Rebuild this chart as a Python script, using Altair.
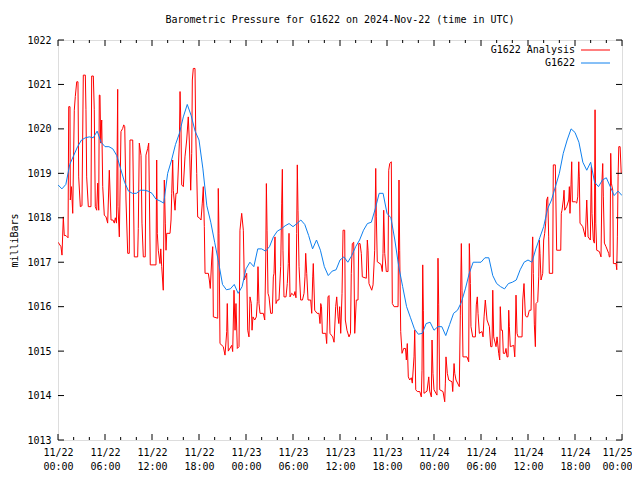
import altair as alt
import pandas as pd

title_text = "Barometric Pressure for G1622 on 2024-Nov-22 (time in UTC)"
series_names = ["G1622 Analysis", "G1622"]
series_colors = ["#ff0000", "#0f80ee"]
y_ticks = list(range(1013, 1023))
x_major = list(range(0, 73, 6))
x_minor = [h for h in range(0, 73, 2) if h % 6]
day_labels = ["11/22"] * 4 + ["11/23"] * 4 + ["11/24"] * 4 + ["11/25"]
time_labels = ["00:00", "06:00", "12:00", "18:00"] * 3 + ["00:00"]

# G1622 observed pressure, every 30 minutes from 11/22 00:00 (hours)
blue_values = [
    1018.74, 1018.65, 1018.75, 1019.2, 1019.4, 1019.6, 1019.75, 1019.8, 1019.82, 1019.8,
    1019.95, 1019.7, 1019.6, 1019.6, 1019.55, 1019.4, 1019.1, 1018.8, 1018.6, 1018.55,
    1018.55, 1018.62, 1018.62, 1018.6, 1018.55, 1018.42, 1018.38, 1018.33, 1019.0, 1019.3,
    1019.65, 1019.9, 1020.27, 1020.55, 1020.3, 1019.95, 1019.75, 1019.1, 1018.27, 1017.9,
    1017.45, 1017.0, 1016.5, 1016.38, 1016.4, 1016.5, 1016.3, 1016.45, 1016.85, 1017.0,
    1016.9, 1017.3, 1017.3, 1017.25, 1017.35, 1017.57, 1017.7, 1017.75, 1017.82, 1017.87,
    1017.8, 1017.87, 1017.95, 1017.85, 1017.6, 1017.3, 1017.5, 1017.27, 1016.9, 1016.7,
    1016.8, 1016.83, 1017.05, 1017.12, 1017.0, 1017.15, 1017.35, 1017.5, 1017.72, 1017.87,
    1017.9, 1018.2, 1018.55, 1018.55, 1018.1, 1018.0, 1017.5, 1016.9, 1016.45, 1016.0,
    1015.75, 1015.5, 1015.38, 1015.4, 1015.62, 1015.65, 1015.47, 1015.55, 1015.55, 1015.35,
    1015.6, 1015.85, 1015.92, 1016.1, 1016.4, 1016.75, 1017.0, 1017.0, 1017.0, 1017.1,
    1017.1, 1016.7, 1016.52, 1016.45, 1016.4, 1016.52, 1016.55, 1016.6, 1016.83, 1017.0,
    1017.05, 1017.0, 1017.3, 1017.55, 1017.8, 1018.2, 1018.4, 1018.7, 1019.0, 1019.45,
    1019.75, 1020.0, 1019.92, 1019.7, 1019.25, 1019.07, 1019.25, 1018.8, 1018.7, 1018.85,
    1018.9, 1018.7, 1018.5, 1018.6, 1018.5,
]
blue_hours = [i * 0.5 for i in range(len(blue_values))]

# G1622 Analysis (hours since 11/22 00:00, mb)
red_hours = [
    0.0, 0.09, 0.38, 0.51, 0.68, 0.8, 1.02, 1.28, 1.37, 1.53, 1.57, 1.72, 1.88, 2.08, 2.21, 2.39, 2.55, 2.64, 2.85, 3.06,
    3.23, 3.49, 3.57, 3.66, 3.87, 4.21, 4.30, 4.51, 4.63, 4.76, 4.94, 5.07, 5.2, 5.27, 5.36, 5.45, 5.58, 5.71, 5.91, 6.13,
    6.34, 6.55, 6.77, 7.02, 7.19, 7.32, 7.47, 7.62, 7.66, 7.83, 8.04, 8.26, 8.39, 8.52, 8.68, 8.90, 9.10, 9.19, 9.54, 9.74,
    10.17, 10.25, 10.38, 10.6, 10.72, 10.89, 11.14, 11.23, 11.45, 11.58, 11.78, 12.51, 12.6, 12.68, 12.80, 13.02, 13.12, 13.24, 13.44, 13.57,
    13.70, 13.79, 13.88, 14.30, 14.43, 14.52, 14.64, 14.72, 14.94, 15.06, 15.23, 15.49, 15.58, 15.70, 15.79, 16.0, 16.21, 16.43, 16.63, 16.76,
    16.94, 17.07, 17.15, 17.27, 17.49, 17.58, 17.71, 17.83, 18.04, 18.26, 18.42, 18.55, 18.68, 18.77, 19.19, 19.32, 19.44, 19.62, 19.75, 19.83,
    20.39, 20.46, 20.55, 20.68, 21.10, 21.32, 21.54, 21.61, 21.74, 22.18, 22.30, 22.47, 22.60, 22.72, 22.89, 23.11, 23.23, 23.45, 23.66, 23.78,
    24.09, 24.22, 24.38, 24.51, 24.68, 24.77, 24.89, 25.11, 25.32, 25.44, 25.53, 25.66, 25.79, 26.21, 26.39, 26.52, 26.6, 26.69, 26.81, 26.94,
    27.15, 27.36, 27.49, 27.58, 27.70, 27.83, 28.0, 28.21, 28.43, 28.56, 28.64, 28.72, 28.85, 29.11, 29.27, 29.40, 29.49, 29.62, 29.83, 30.13,
    30.25, 30.38, 30.47, 30.55, 30.64, 30.77, 30.98, 31.21, 31.41, 31.53, 31.62, 31.75, 31.92, 32.26, 32.39, 32.52, 32.59, 32.77, 33.07, 33.32,
    33.45, 33.54, 33.64, 33.75, 34.18, 34.30, 34.47, 34.6, 34.72, 34.89, 35.07, 35.24, 35.45, 35.58, 35.75, 35.85, 35.96, 36.09, 36.26, 36.39,
    36.6, 36.68, 36.89, 37.15, 37.34, 37.44, 37.57, 37.75, 37.88, 38.08, 38.30, 38.39, 38.56, 38.72, 38.85, 39.36, 39.49, 39.58, 39.70, 40.05,
    40.22, 40.43, 40.56, 40.64, 40.76, 41.24, 41.40, 41.49, 41.58, 41.71, 41.91, 42.13, 42.22, 42.35, 42.55, 42.68, 42.90, 43.41, 43.53, 43.62,
    43.75, 43.92, 44.13, 44.36, 44.47, 44.59, 44.72, 44.90, 45.10, 45.23, 45.45, 45.54, 45.67, 45.87, 46.18, 46.38, 46.47, 46.56, 46.64, 46.72,
    47.11, 47.33, 47.45, 47.66, 47.75, 47.87, 48.0, 48.38, 48.51, 48.60, 48.73, 49.15, 49.37, 49.45, 49.53, 49.70, 49.88, 50.30, 50.39, 50.56,
    50.65, 50.81, 51.23, 51.36, 51.49, 51.58, 51.70, 52.21, 52.43, 52.51, 52.64, 52.72, 52.94, 53.28, 53.40, 53.53, 53.62, 53.79, 54.13, 54.26,
    54.39, 54.55, 54.77, 55.07, 55.24, 55.41, 55.50, 55.62, 55.92, 56.05, 56.26, 56.39, 56.46, 56.59, 56.74, 56.85, 57.06, 57.19, 57.32, 57.45,
    57.54, 57.62, 57.74, 58.18, 58.31, 58.38, 58.47, 58.60, 58.73, 59.24, 59.33, 59.49, 59.66, 59.79, 59.96, 60.17, 60.39, 60.51, 60.60, 60.68,
    60.81, 60.94, 61.02, 61.24, 61.37, 61.45, 61.53, 61.66, 61.88, 62.0, 62.13, 62.26, 62.39, 62.52, 62.64, 62.72, 63.15, 63.23, 63.49, 63.66,
    64.18, 64.25, 64.34, 64.51, 64.60, 64.69, 64.94, 65.20, 65.28, 65.36, 65.49, 65.58, 65.66, 66.04, 66.22, 66.35, 66.48, 66.55, 66.64, 66.99,
    67.32, 67.50, 67.67, 67.96, 68.09, 68.17, 68.34, 68.47, 68.56, 68.65, 68.77, 69.11, 69.32, 69.45, 69.54, 69.62, 69.75, 69.96, 70.30, 70.38,
    70.47, 70.56, 70.64, 70.82, 70.90, 71.24, 71.33, 71.41, 71.50, 71.59, 71.76, 71.9,
]
red_values = [
    1017.45, 1017.43, 1017.35, 1017.16, 1018.02, 1017.6, 1017.6, 1017.55, 1020.5, 1020.5, 1018.4, 1018.7, 1018.1, 1020.42, 1020.73, 1021.06, 1021.06, 1018.92, 1018.25, 1018.27,
    1021.21, 1021.21, 1020.43, 1018.92, 1018.25, 1018.25, 1021.19, 1021.19, 1020.43, 1018.25, 1018.17, 1018.78, 1018.17, 1020.76, 1020.76, 1019.68, 1020.2, 1018.7, 1018.06, 1018.02,
    1017.88, 1019.07, 1017.95, 1017.95, 1017.88, 1018.0, 1017.88, 1020.89, 1018.25, 1017.57, 1019.94, 1020.01, 1020.09, 1020.05, 1018.4, 1017.2, 1017.2, 1019.75, 1019.75, 1017.12,
    1017.12, 1017.76, 1019.68, 1019.4, 1017.88, 1017.12, 1017.12, 1019.41, 1019.56, 1019.68, 1016.94, 1016.94, 1019.3, 1017.65, 1017.27, 1016.97, 1017.3, 1016.9, 1016.37, 1018.85,
    1017.88, 1017.27, 1017.65, 1017.65, 1017.95, 1018.55, 1019.3, 1018.62, 1018.17, 1018.55, 1018.55, 1019.68, 1020.84, 1020.05, 1018.74, 1018.7, 1019.37, 1019.75, 1020.27, 1019.75,
    1018.62, 1019.45, 1021.1, 1021.36, 1021.36, 1019.94, 1019.0, 1018.02, 1018.0, 1017.95, 1018.33, 1018.7, 1017.8, 1016.75, 1016.75, 1016.6, 1016.41, 1017.05, 1017.35, 1015.77,
    1015.74, 1018.66, 1017.65, 1015.17, 1015.1, 1014.91, 1015.44, 1016.07, 1015.0, 1015.13, 1014.99, 1016.37, 1015.47, 1016.07, 1015.06, 1015.1, 1017.72, 1018.1, 1017.72, 1016.6,
    1016.75, 1015.47, 1015.32, 1016.22, 1016.07, 1015.47, 1015.77, 1015.7, 1015.77, 1016.11, 1016.9, 1016.07, 1015.85, 1015.85, 1015.7, 1017.05, 1018.77, 1017.72, 1016.3, 1016.22,
    1015.85, 1015.85, 1016.67, 1016.75, 1017.57, 1016.07, 1016.15, 1016.15, 1016.9, 1018.33, 1019.09, 1017.27, 1016.22, 1016.22, 1016.52, 1016.97, 1017.65, 1016.22, 1016.3, 1016.25,
    1016.34, 1016.2, 1017.65, 1019.19, 1018.17, 1016.9, 1016.15, 1016.15, 1016.3, 1016.67, 1017.2, 1016.75, 1016.15, 1016.15, 1015.85, 1016.67, 1016.97, 1015.92, 1015.85, 1015.85,
    1015.62, 1016.07, 1016.0, 1015.4, 1015.4, 1015.17, 1016.22, 1016.25, 1015.4, 1015.36, 1015.32, 1015.2, 1016.0, 1016.22, 1015.77, 1015.62, 1016.0, 1015.4, 1016.3, 1017.72,
    1017.72, 1015.7, 1015.47, 1015.32, 1015.4, 1016.75, 1017.42, 1017.45, 1015.4, 1016.15, 1016.15, 1017.42, 1017.42, 1017.2, 1016.67, 1016.64, 1017.5, 1017.27, 1016.52, 1016.37,
    1016.49, 1017.27, 1019.11, 1018.02, 1017.01, 1016.95, 1016.79, 1017.2, 1018.17, 1017.2, 1016.79, 1016.79, 1019.07, 1019.22, 1019.26, 1016.07, 1016.0, 1016.0, 1018.85, 1017.27,
    1015.44, 1014.95, 1015.06, 1015.06, 1014.8, 1015.17, 1014.42, 1014.35, 1014.4, 1014.28, 1014.87, 1015.47, 1014.13, 1014.09, 1014.09, 1013.97, 1014.57, 1016.94, 1015.92, 1014.05,
    1014.1, 1014.42, 1014.1, 1013.97, 1015.25, 1014.5, 1014.13, 1014.01, 1017.09, 1016.04, 1014.13, 1014.09, 1013.86, 1014.28, 1014.87, 1014.5, 1014.35, 1014.31, 1014.09, 1014.72,
    1014.5, 1014.35, 1014.2, 1015.81, 1017.42, 1016.37, 1014.87, 1014.87, 1014.76, 1017.42, 1016.52, 1015.55, 1015.32, 1015.32, 1016.04, 1016.22, 1015.85, 1015.4, 1015.44, 1015.32,
    1015.77, 1016.15, 1015.7, 1015.55, 1015.1, 1015.1, 1016.37, 1015.32, 1015.1, 1015.32, 1014.95, 1014.8, 1016.0, 1015.47, 1015.47, 1014.95, 1014.95, 1015.06, 1014.87, 1014.87,
    1015.92, 1015.55, 1015.1, 1015.13, 1014.87, 1015.32, 1016.26, 1015.4, 1015.32, 1015.32, 1016.15, 1016.52, 1015.81, 1015.77, 1015.77, 1015.92, 1015.92, 1017.05, 1017.57, 1016.75,
    1015.59, 1015.1, 1016.07, 1016.11, 1016.67, 1017.5, 1017.2, 1016.6, 1016.75, 1017.5, 1017.65, 1017.88, 1018.4, 1018.47, 1017.57, 1016.75, 1016.75, 1019.19, 1019.19, 1017.27,
    1017.27, 1018.1, 1018.17, 1018.4, 1018.62, 1018.17, 1018.25, 1018.4, 1018.7, 1018.1, 1018.74, 1019.26, 1018.36, 1018.36, 1018.33, 1018.47, 1019.26, 1018.92, 1017.88, 1017.8,
    1017.57, 1018.4, 1017.57, 1017.5, 1019.15, 1018.1, 1017.5, 1017.43, 1020.43, 1017.88, 1017.27, 1017.24, 1017.12, 1018.85, 1019.22, 1018.47, 1017.43, 1017.35, 1017.2, 1017.12,
    1017.12, 1019.45, 1018.78, 1018.62, 1016.97, 1016.97, 1016.83, 1017.57, 1018.92, 1019.6, 1019.6, 1019.0,
]

FONT = "DejaVu Sans Mono"
W, H = 564, 400

red_df = pd.DataFrame({"h": red_hours, "p": red_values})
blue_df = pd.DataFrame({"h": blue_hours, "p": blue_values})
major_df = pd.DataFrame({"h": x_major})
minor_df = pd.DataFrame({"h": x_minor})
ytick_df = pd.DataFrame({"v": y_ticks})
legend_df = pd.DataFrame({"name": series_names, "color": series_colors, "row": [0, 1]})

days_js = "[" + ",".join("'%s'" % d for d in day_labels) + "]"
times_js = "[" + ",".join("'%s'" % t for t in time_labels) + "]"
label_expr = f"[{days_js}[round(datum.value/6)], {times_js}[round(datum.value/6)]]"

xscale = alt.Scale(domain=[0, 72], nice=False, zero=False)
yscale = alt.Scale(domain=[1013, 1022], nice=False, zero=False)
xaxis = alt.Axis(values=x_major, labelExpr=label_expr, ticks=False, domain=False, grid=False,
                 title=None, labelFont=FONT, labelFontSize=10, labelColor="black",
                 labelPadding=7, labelLineHeight=14, labelFlush=False, labelOverlap=False,
                 labelOffset={"condition": {"test": "datum.value >= 72", "value": -5}, "value": 0})
yaxis = alt.Axis(values=y_ticks, ticks=False, domain=False, grid=False, title="milliBars",
                 titleFont=FONT, titleFontSize=10, titleFontWeight="normal", titleColor="black",
                 titlePadding=7, labelFont=FONT, labelFontSize=10, labelColor="black",
                 labelPadding=7, format="d")


def X(field):
    return alt.X(field, type="quantitative", scale=xscale, axis=xaxis)


def Y(field):
    return alt.Y(field, type="quantitative", scale=yscale, axis=yaxis)


red = alt.Chart(red_df).mark_line(color=series_colors[0], strokeWidth=1, clip=True).encode(
    x=X("h"), y=Y("p"))
blue = alt.Chart(blue_df).mark_line(color=series_colors[1], strokeWidth=1, clip=True).encode(
    x=X("h"), y=Y("p"))

tick_kw = dict(color="black", strokeWidth=1)
maj_bot = alt.Chart(major_df).mark_rule(**tick_kw).encode(x=X("h"), y=alt.value(H), y2=alt.value(H - 6))
maj_top = alt.Chart(major_df).mark_rule(**tick_kw).encode(x=X("h"), y=alt.value(0), y2=alt.value(6))
min_bot = alt.Chart(minor_df).mark_rule(**tick_kw).encode(x=X("h"), y=alt.value(H), y2=alt.value(H - 3))
min_top = alt.Chart(minor_df).mark_rule(**tick_kw).encode(x=X("h"), y=alt.value(0), y2=alt.value(3))
y_left = alt.Chart(ytick_df).mark_rule(**tick_kw).encode(y=Y("v"), x=alt.value(0), x2=alt.value(6))
y_right = alt.Chart(ytick_df).mark_rule(**tick_kw).encode(y=Y("v"), x=alt.value(W), x2=alt.value(W - 6))

legend_layers = []
for i in range(len(series_names)):
    base = alt.Chart(legend_df).transform_filter(alt.datum.row == i)
    legend_layers.append(base.mark_text(align="right", baseline="middle", font=FONT, fontSize=10,
                                        color="black").encode(
        x=alt.value(517), y=alt.value(10 + 13 * i), text="name:N"))
    legend_layers.append(base.mark_rule(color=series_colors[i], strokeWidth=1).encode(
        x=alt.value(523), x2=alt.value(552), y=alt.value(10 + 13 * i)))

chart = alt.layer(red, blue, maj_bot, maj_top, min_bot, min_top, y_left, y_right, *legend_layers).properties(
    width=W, height=H,
    title=alt.TitleParams(title_text, font=FONT, fontSize=10, fontWeight="normal", color="black",
                          anchor="middle", offset=10),
    autosize=alt.AutoSizeParams(type="none"),
    padding={"left": 50, "top": 32, "right": 10, "bottom": 30},
).configure_view(stroke="black", strokeWidth=1).configure(background="white")

chart.save("out.html", embed_options={"renderer": "svg", "actions": False})
